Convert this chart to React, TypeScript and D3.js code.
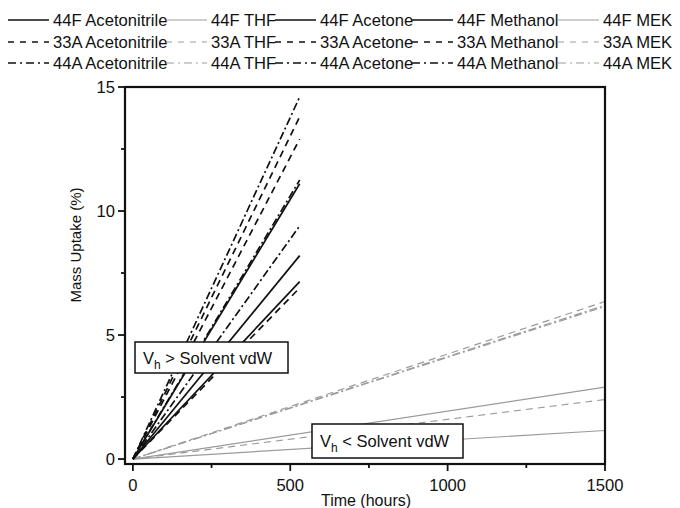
import React from 'react';
import * as d3 from 'd3';

const solvents = ['Acetonitrile', 'THF', 'Acetone', 'Methanol', 'MEK'];
const materials = ['44F', '33A', '44A'];
const grayS = ['THF', 'MEK'];
const timesBlack = [0, 530];
const timesGray = [0, 1500];
const uptake44F = [[0, 11.1], [0, 2.9], [0, 8.2], [0, 7.15], [0, 1.15]];
const uptake33A = [[0, 13.8], [0, 6.35], [0, 12.9], [0, 6.9], [0, 2.4]];
const uptake44A = [[0, 14.6], [0, 6.2], [0, 11.25], [0, 9.4], [0, 6.15]];
const xTicks = [0, 500, 1000, 1500];
const xMinor = [250, 750, 1250];
const yTicks = [0, 5, 10, 15];
const yMinor = [2.5, 7.5, 12.5];

const FONT = '"Liberation Sans", Arial, Helvetica, sans-serif';
const dash: Record<string, string | undefined> = { '44F': undefined, '33A': '7,5', '44A': '8,3,2,3' };
const legDash: Record<string, string | undefined> = { '44F': undefined, '33A': '6,6', '44A': '8,4,2,4' };
const GRAY = '#9b9b9b';

export default function App() {
  const L = 125, R = 605, T = 87, B = 464;
  const x = d3.scaleLinear().domain([-25, 1500]).range([L, R]);
  const y = d3.scaleLinear().domain([-0.2, 15]).range([B, T]);
  const line = d3.line<[number, number]>().x(d => x(d[0])).y(d => y(d[1]));
  const data: Record<string, number[][]> = { '44F': uptake44F, '33A': uptake33A, '44A': uptake44A };

  const series: { m: string; s: string; pts: [number, number][]; gray: boolean }[] = [];
  materials.forEach(m => {
    solvents.forEach((s, i) => {
      const gray = grayS.includes(s);
      const times = gray ? timesGray : timesBlack;
      series.push({ m, s, gray, pts: data[m][i].map((v, k) => [times[k], v] as [number, number]) });
    });
  });

  const colText = [53, 211, 320, 457, 603];
  const rowBase = [26, 48, 69];

  return (
    <svg width={680} height={508} style={{ position: 'absolute', left: 0, top: 0, background: '#fff' }} fontFamily={FONT}>
      <rect width={680} height={508} fill="#fff" />
      {/* legend */}
      {materials.map((m, r) =>
        solvents.map((s, c) => {
          const gray = grayS.includes(s);
          const tx = colText[c];
          const ly = rowBase[r] - 6;
          return (
            <g key={m + s}>
              <line x1={tx - 45} x2={tx - 4} y1={ly} y2={ly} stroke={gray ? GRAY : '#111'} strokeWidth={gray ? 1.1 : 1.7} strokeDasharray={legDash[m]} />
              <text x={tx} y={rowBase[r]} fontSize={16.6} fill="#111">{`${m} ${s}`}</text>
            </g>
          );
        })
      )}
      {/* lines */}
      <g>
        {series.filter(d => d.gray).map(d => (
          <path key={d.m + d.s} d={line(d.pts) || ''} fill="none" stroke={GRAY} strokeWidth={1.2} strokeDasharray={dash[d.m]} />
        ))}
        {series.filter(d => !d.gray).map(d => (
          <path key={d.m + d.s} d={line(d.pts) || ''} fill="none" stroke="#111" strokeWidth={1.7} strokeDasharray={dash[d.m]} />
        ))}
      </g>
      {/* annotation boxes */}
      <g fontSize={16.5} fill="#111">
        <rect x={135} y={342} width={153} height={31} fill="#fff" stroke="#111" strokeWidth={1.5} />
        <text x={143} y={364} fill="#111">V<tspan fontSize={12} dy={5} fill="#111">h</tspan><tspan dy={-5} fill="#111">{' > Solvent vdW'}</tspan></text>
        <rect x={312} y={424} width={151} height={34} fill="#fff" stroke="#111" strokeWidth={1.5} />
        <text x={320} y={447} fill="#111">V<tspan fontSize={12} dy={5} fill="#111">h</tspan><tspan dy={-5} fill="#111">{' < Solvent vdW'}</tspan></text>
      </g>
      {/* frame */}
      <rect x={L} y={T} width={R - L} height={B - T} fill="none" stroke="#111" strokeWidth={2.2} />
      {/* x ticks */}
      {xTicks.map(t => (
        <g key={'x' + t}>
          <line x1={x(t)} x2={x(t)} y1={B} y2={B + 7} stroke="#111" strokeWidth={1.8} />
          <text x={x(t)} y={491} textAnchor="middle" fontSize={16.6} fill="#111">{t}</text>
        </g>
      ))}
      {xMinor.map(t => (
        <line key={'xm' + t} x1={x(t)} x2={x(t)} y1={B} y2={B + 4} stroke="#111" strokeWidth={1.8} />
      ))}
      {yTicks.map(t => (
        <g key={'y' + t}>
          <line x1={L} x2={L - 7} y1={y(t)} y2={y(t)} stroke="#111" strokeWidth={1.8} />
          <text x={L - 10} y={y(t) + 6} textAnchor="end" fontSize={16.6} fill="#111">{t}</text>
        </g>
      ))}
      {yMinor.map(t => (
        <line key={'ym' + t} x1={L} x2={L - 4} y1={y(t)} y2={y(t)} stroke="#111" strokeWidth={1.8} />
      ))}
      <text x={366} y={506} textAnchor="middle" fontSize={16} fill="#111">Time (hours)</text>
      <text transform={`translate(81,245) rotate(-90)`} textAnchor="middle" fontSize={15} fill="#111">Mass Uptake (%)</text>
    </svg>
  );
}
